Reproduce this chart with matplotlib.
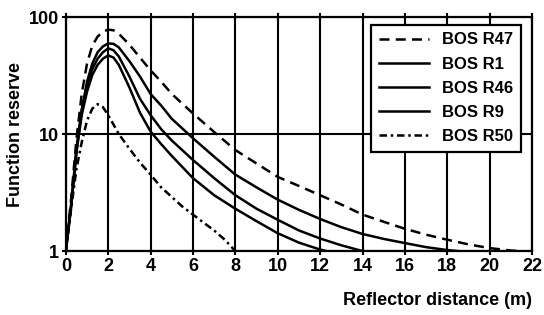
import matplotlib
matplotlib.use("Agg")
import matplotlib.pyplot as plt
from matplotlib.ticker import FixedLocator, NullLocator, FixedFormatter

plt.rcParams['font.family'] = ['Liberation Sans Narrow', 'Liberation Sans', 'DejaVu Sans']
plt.rcParams['font.weight'] = 'bold'

# values (x in m, function reserve)
x_r47 = [0, 0.25, 0.5, 0.75, 1.0, 1.25, 1.5, 1.75, 2.0, 2.25, 2.5, 3.0, 3.5, 4.0, 4.5, 5.0,
         6, 7, 8, 9, 10, 11, 12, 13, 14, 15, 16, 17, 18, 19, 20, 21, 21.5]
y_r47 = [1, 2.8, 9, 22, 40, 57, 68, 75, 78, 77, 72, 58, 45, 35, 28, 22,
         15, 10.4, 7.3, 5.6, 4.3, 3.6, 3.0, 2.5, 2.05, 1.78, 1.55, 1.38, 1.25, 1.14, 1.06, 1.01, 1.0]

x_r1 = [0, 0.25, 0.5, 0.75, 1.0, 1.25, 1.5, 1.75, 2.0, 2.25, 2.5, 3.0, 3.5, 4.0, 4.5, 5.0,
        6, 7, 8, 9, 10, 11, 12, 13, 14, 15, 16, 17, 18, 18.5]
y_r1 = [1, 2.4, 7, 16, 28, 40, 50, 56, 59.5, 59, 55, 42, 31, 22, 17.5, 13.5,
        9.2, 6.4, 4.5, 3.5, 2.75, 2.25, 1.88, 1.6, 1.4, 1.27, 1.17, 1.08, 1.02, 1.0]

x_r46 = [0, 0.25, 0.5, 0.75, 1.0, 1.25, 1.5, 1.75, 2.0, 2.25, 2.5, 3.0, 3.5, 4.0, 4.5, 5.0,
         6, 7, 8, 9, 10, 11, 12, 13, 14]
y_r46 = [1, 2.5, 7.5, 16, 26, 36, 44, 50, 54, 52, 46, 31, 20, 14.5, 11, 8.8,
         6.0, 4.2, 3.0, 2.3, 1.85, 1.5, 1.28, 1.12, 1.0]

x_r9 = [0, 0.25, 0.5, 0.75, 1.0, 1.25, 1.5, 1.75, 2.0, 2.25, 2.5, 3.0, 3.5, 4.0, 4.5, 5.0,
        6, 7, 8, 9, 10, 11, 12, 12.3]
y_r9 = [1, 2.4, 7, 14.5, 23, 32, 39, 44, 47, 45, 39, 25, 15.2, 10.5, 8.2, 6.5,
        4.2, 3.0, 2.3, 1.8, 1.42, 1.18, 1.03, 1.0]

x_r50 = [0, 0.25, 0.5, 0.75, 1.0, 1.25, 1.5, 1.75, 2.0, 2.5, 3.0, 3.5, 4.0, 4.5, 5.0,
         5.5, 6.0, 6.5, 7.0, 7.5, 8.0]
y_r50 = [1, 2.3, 5, 8.5, 13, 16.5, 18, 17, 14.5, 10, 7.5, 5.7, 4.5, 3.5, 2.9,
         2.4, 2.05, 1.75, 1.5, 1.25, 1.0]

x_ticks = list(range(0, 23, 2))
y_ticks = [1, 10, 100]

fig = plt.figure(figsize=(5.44, 3.15), dpi=100)
ax = fig.add_axes([0.121, 0.203, 0.857, 0.743])

lw = 1.8
ax.plot(x_r47, y_r47, color='black', lw=lw, dashes=(4, 2.5), label='BOS R47')
ax.plot(x_r1, y_r1, color='black', lw=lw, label='BOS R1')
ax.plot(x_r46, y_r46, color='black', lw=lw, label='BOS R46')
ax.plot(x_r9, y_r9, color='black', lw=lw, label='BOS R9')
ax.plot(x_r50, y_r50, color='black', lw=lw, dashes=(3, 1.5, 1, 1.5), label='BOS R50')

ax.set_yscale('log')
ax.set_xlim(0, 22)
ax.set_ylim(1, 100)
ax.xaxis.set_major_locator(FixedLocator(x_ticks))
ax.yaxis.set_major_locator(FixedLocator(y_ticks))
ax.yaxis.set_major_formatter(FixedFormatter([str(v) for v in y_ticks]))
ax.yaxis.set_minor_locator(NullLocator())
ax.grid(True, color='black', lw=1.5)

for s in ax.spines.values():
    s.set_linewidth(1.6)
ax.tick_params(axis='both', which='major', direction='inout', length=6, width=1.5,
               labelsize=13, pad=2, top=True, right=False)
for lab in ax.get_xticklabels() + ax.get_yticklabels():
    lab.set_fontweight('bold')

ax.set_ylabel('Function reserve', fontsize=13, fontweight='bold', labelpad=3)
ax.set_xlabel('Reflector distance (m)', fontsize=13, fontweight='bold', loc='right', labelpad=12)

leg = ax.legend(loc='upper right', bbox_to_anchor=(0.976, 0.966), fontsize=12, frameon=True,
                fancybox=False, edgecolor='black', framealpha=1, handlelength=3.0,
                borderpad=0.45, labelspacing=0.55, handletextpad=0.8, borderaxespad=0)
leg.get_frame().set_linewidth(1.6)
for t in leg.get_texts():
    t.set_fontweight('bold')

fig.savefig('out.png', dpi=100)
